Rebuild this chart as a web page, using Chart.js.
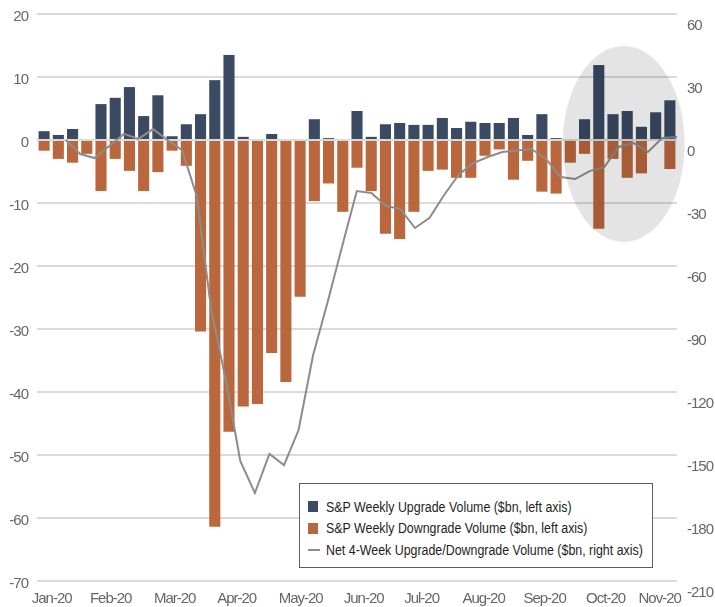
<!DOCTYPE html>
<html>
<head>
<meta charset="utf-8">
<script src="https://cdn.jsdelivr.net/npm/chart.js@4.4.1/dist/chart.umd.min.js"></script>
<style>
    html, body { margin: 0; padding: 0; background: #fff; }
    #wrap { position: relative; width: 715px; height: 607px; }
    #legend {
        position: absolute; left: 299px; top: 483px; width: 354px; height: 85px;
        border: 1.5px solid #5e5e5e; background: #fff; box-sizing: border-box;
        font-family: 'Liberation Sans', Arial, sans-serif;
        font-size: 15.5px; color: #1e1e1e; padding: 12px 0 0 8px;
    }
    .lg-row { display: flex; align-items: center; height: 21.5px; white-space: nowrap; }
    .lg-box { width: 10px; height: 11px; margin-right: 8px; flex-shrink: 0; }
    .lg-line { width: 12px; height: 2px; margin-right: 6px; background: #8c8c8c; flex-shrink: 0; }
    .lg-text { display: inline-block; transform: scaleX(0.8); transform-origin: left center; }
</style>
</head>
<body>
<div id="wrap">
    <canvas id="chart" width="715" height="607"></canvas>
    <div id="legend"></div>
</div>
<script>
// ── Weekly bar data ($bn, left axis) ─────────────────────────────
const upgrades = [
    1.4, 0.8, 1.75, 0, 5.7, 6.7, 8.4, 3.8, 7.1, 0.6,
    2.5, 4.1, 9.5, 13.5, 0.5, 0, 0.95, 0, 0, 3.3,
    0.3, 0, 4.6, 0.5, 2.5, 2.7, 2.4, 2.4, 3.5, 1.9,
    2.9, 2.7, 2.7, 3.5, 0.8, 4.1, 0.3, 0, 3.3, 11.9,
    4.1, 4.6, 2.1, 4.4, 6.3
];
const downgrades = [
    -1.7, -3.0, -3.6, -2.2, -8.1, -3.0, -4.9, -8.1, -5.1, -1.7,
    -4.1, -30.4, -61.4, -46.3, -42.3, -41.9, -33.8, -38.4, -24.9, -9.7,
    -6.9, -11.4, -4.4, -8.1, -14.9, -15.7, -11.4, -4.9, -4.7, -6.0,
    -6.0, -2.5, -1.5, -6.3, -3.3, -8.2, -8.5, -3.6, -2.2, -14.1,
    -3.0, -6.0, -5.3, 0, -4.6
];

// ── Net 4-week line ($bn, right axis) ────────────────────────────
const netLine = [
    0, -6.7, -8.6, -2.9, 2.9, 0.5, 5.2, 0, -4.8, -26.7,
    -81, -114.3, -152.9, -168.1, -149.5, -154.8, -138.1, -102.4, -77.1, -50.5,
    -24.3, -25.2, -31.3, -32.9, -41.9, -37, -26.2, -16.5, -11, -8.1,
    -5.7, -5, -4.3, -9, -17.6, -18.6, -14.8, -12.9, -3.3, -1.4,
    -5.7, 1, 1.4
];

// ── Month tick labels (positions in week-bar units) ─────────────
const monthLabels = ['Jan-20','Feb-20','Mar-20','Apr-20','May-20','Jun-20',
                     'Jul-20','Aug-20','Sep-20','Oct-20','Nov-20'];
const monthPos    = [0.53, 4.68, 9.18, 13.54, 18.04, 22.47, 26.54, 30.9, 35.19, 39.48, 43.28];

const legendLabels = [
    'S&P Weekly Upgrade Volume ($bn, left axis)',
    'S&P Weekly Downgrade Volume ($bn, left axis)',
    'Net 4-Week Upgrade/Downgrade Volume ($bn, right axis)'
];

const FONT   = "'Liberation Sans', Arial, sans-serif";
const NAVY   = '#3a4a63';
const RUST   = '#bb673d';
const GREY   = '#8c8c8c';
const GRID   = '#dadada';

// ── Narrow-looking tick text (no condensed face installed) ───────
const tightText = {
    id: 'tightText',
    beforeDraw(chart) { chart.ctx.letterSpacing = '-1px'; }
};

// ── Highlight ellipse (drawn over the last weeks) ────────────────
const highlight = {
    id: 'highlight',
    afterDatasetsDraw(chart) {
        const xs = chart.scales.xm, ys = chart.scales.y;
        const cx = xs.getPixelForValue(40.75);
        const cy = ys.getPixelForValue(-0.63);
        const rx = xs.getPixelForValue(40.75 + 4.29) - cx;
        const ry = ys.getPixelForValue(-0.63 - 15.56) - cy;
        const ctx = chart.ctx;
        ctx.save();
        ctx.beginPath();
        ctx.ellipse(cx, cy, rx, ry, 0, 0, Math.PI * 2);
        ctx.fillStyle = 'rgba(0,0,0,0.105)';
        ctx.fill();
        ctx.restore();
    }
};

// label overhang must not push the plot area down
function noEdgePadding(s) {
    s.paddingTop = 0;
    s.paddingBottom = 0;
}

const weeks = upgrades.map((_, i) => i);

const chart = new Chart(document.getElementById('chart'), {
    data: {
        labels: weeks,
        datasets: [
            {
                type: 'bar',
                label: legendLabels[0],
                data: upgrades,
                backgroundColor: NAVY,
                barPercentage: 0.78,
                categoryPercentage: 1,
                stack: 'vol',
                grouped: false,
                xAxisID: 'x', yAxisID: 'y',
                order: 2
            },
            {
                type: 'bar',
                label: legendLabels[1],
                data: downgrades,
                backgroundColor: RUST,
                barPercentage: 0.78,
                categoryPercentage: 1,
                stack: 'vol',
                grouped: false,
                xAxisID: 'x', yAxisID: 'y',
                order: 2
            },
            {
                type: 'line',
                label: legendLabels[2],
                data: netLine.map((v, j) => ({ x: j, y: v })),
                borderColor: GREY,
                borderWidth: 2,
                pointRadius: 0,
                tension: 0,
                xAxisID: 'xl', yAxisID: 'y2',
                order: 1
            }
        ]
    },
    options: {
        responsive: false,
        animation: false,
        layout: { padding: { top: 14, left: 0, right: 0, bottom: 0 } },
        plugins: { legend: { display: false }, tooltip: { enabled: false } },
        scales: {
            x: { display: false, stacked: true, offset: true },
            xl: { type: 'linear', display: false, min: -1.97, max: 42 },
            xm: {
                type: 'linear', position: 'bottom', min: -0.5, max: 44.5,
                grid: { display: false }, border: { display: false },
                afterBuildTicks: s => { s.ticks = monthPos.map(v => ({ value: v })); },
                afterFit: s => { s.height = 26; s.paddingLeft = 0; s.paddingRight = 0; },
                ticks: {
                    autoSkip: false, maxRotation: 0, padding: 1, color: '#666',
                    font: { family: FONT, size: 15 },
                    callback: (v, i) => monthLabels[i]
                }
            },
            y: {
                position: 'left', stacked: true, min: -70, max: 20,
                afterFit: s => { s.width = 37; noEdgePadding(s); },
                grid: { color: GRID, lineWidth: 2, drawTicks: false },
                border: { display: false },
                ticks: { stepSize: 10, padding: 9, color: '#666', labelOffset: 3,
                         font: { family: FONT, size: 15 } }
            },
            y2: {
                position: 'right', min: -210, max: 60,
                afterFit: s => { s.width = 38; noEdgePadding(s); },
                grid: { display: false, drawTicks: false },
                border: { display: false },
                ticks: { stepSize: 30, padding: 10, color: '#666', labelOffset: 12,
                         font: { family: FONT, size: 15 } }
            }
        }
    },
    plugins: [tightText, highlight]
});

// ── HTML legend ──────────────────────────────────────────────────
const legend = document.getElementById('legend');
chart.data.datasets.forEach(function (ds) {
    const mark = ds.type === 'line'
        ? '<span class="lg-line"></span>'
        : `<span class="lg-box" style="background:${ds.backgroundColor}"></span>`;
    const row = document.createElement('div');
    row.className = 'lg-row';
    row.innerHTML = mark + '<span class="lg-text"></span>';
    row.lastChild.textContent = ds.label;
    legend.appendChild(row);
});
</script>
</body>
</html>
